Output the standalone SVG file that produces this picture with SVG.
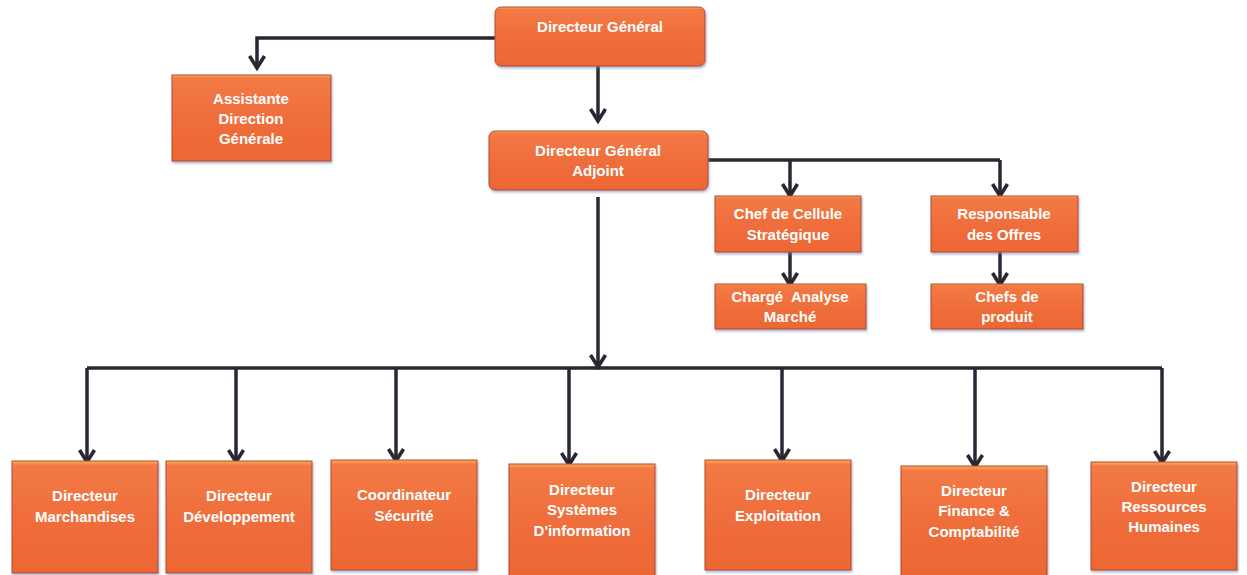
<svg xmlns="http://www.w3.org/2000/svg" width="1247" height="575" viewBox="0 0 1247 575">
  <defs>
    <linearGradient id="boxFill" x1="0" y1="0" x2="0" y2="1">
      <stop offset="0" stop-color="#f9b060"/>
      <stop offset="0.04" stop-color="#f27a45"/>
      <stop offset="0.5" stop-color="#ef6e3c"/>
      <stop offset="1" stop-color="#ec6633"/>
    </linearGradient>
    <filter id="shade" x="-5%" y="-5%" width="110%" height="120%">
      <feDropShadow dx="1" dy="2" stdDeviation="1.2" flood-color="#6a7fb0" flood-opacity="0.55"/>
    </filter>
    <marker id="arrow" viewBox="0 0 18 18" refX="15" refY="9" markerWidth="18" markerHeight="18" markerUnits="userSpaceOnUse" orient="auto">
      <path d="M3,1.5 L15,9 L3,16.5" fill="none" stroke="#2b2633" stroke-width="3.6" stroke-linejoin="miter"/>
    </marker>
    <style>
      .box { fill: url(#boxFill); stroke: #b8481f; stroke-width: 1; filter: url(#shade); }
      .lbl { font-family: "Liberation Sans", Arial, sans-serif; font-size: 15px; font-weight: bold; fill: #ffffff; text-anchor: middle; white-space: pre; }
      .wire { fill: none; stroke: #2b2633; stroke-width: 3.5; }
      .wire.arr { marker-end: url(#arrow); }
    </style>
  </defs>

  <rect width="1247" height="575" fill="#ffffff"/>

  <!-- connectors -->
  <g id="connectors">
    <polyline class="wire arr" points="495,38 257,38 257,68"/>
    <line class="wire arr" x1="598" y1="66" x2="598" y2="121"/>
    <polyline class="wire" points="708,160 1000,160"/>
    <line class="wire arr" x1="790" y1="160" x2="790" y2="196"/>
    <line class="wire arr" x1="1000" y1="160" x2="1000" y2="196"/>
    <line class="wire arr" x1="790" y1="252" x2="790" y2="285"/>
    <line class="wire arr" x1="1000" y1="252" x2="1000" y2="285"/>
    <line class="wire arr" x1="598" y1="197" x2="598" y2="367"/>
    <polyline class="wire" points="87,368 1162,368"/>
    <line class="wire arr" x1="87" y1="368" x2="87" y2="462"/>
    <line class="wire arr" x1="236" y1="368" x2="236" y2="462"/>
    <line class="wire arr" x1="396" y1="368" x2="396" y2="461"/>
    <line class="wire arr" x1="569" y1="368" x2="569" y2="465"/>
    <line class="wire arr" x1="782" y1="368" x2="782" y2="461"/>
    <line class="wire arr" x1="975" y1="368" x2="975" y2="467"/>
    <line class="wire arr" x1="1162" y1="368" x2="1162" y2="463"/>
  </g>

  <!-- top management -->
  <g id="directeur-general">
    <rect class="box" x="495" y="7" width="210" height="59" rx="6"/>
    <text class="lbl" x="600" y="32">Directeur Général</text>
  </g>
  <g id="assistante">
    <rect class="box" x="172" y="75" width="159" height="86"/>
    <text class="lbl" x="251" y="104">Assistante</text>
    <text class="lbl" x="251" y="124">Direction</text>
    <text class="lbl" x="251" y="144">Générale</text>
  </g>
  <g id="directeur-general-adjoint">
    <rect class="box" x="489" y="131" width="219" height="59" rx="6"/>
    <text class="lbl" x="598" y="156">Directeur Général</text>
    <text class="lbl" x="598" y="176">Adjoint</text>
  </g>

  <!-- staff units -->
  <g id="chef-cellule">
    <rect class="box" x="715" y="196" width="146" height="56"/>
    <text class="lbl" x="788" y="219">Chef de Cellule</text>
    <text class="lbl" x="788" y="240">Stratégique</text>
  </g>
  <g id="responsable-offres">
    <rect class="box" x="931" y="196" width="147" height="56"/>
    <text class="lbl" x="1004" y="219">Responsable</text>
    <text class="lbl" x="1004" y="240">des Offres</text>
  </g>
  <g id="charge-analyse">
    <rect class="box" x="715" y="284" width="151" height="45"/>
    <text class="lbl" x="790" y="302" xml:space="preserve">Chargé  Analyse</text>
    <text class="lbl" x="790" y="322">Marché</text>
  </g>
  <g id="chefs-produit">
    <rect class="box" x="931" y="284" width="152" height="45"/>
    <text class="lbl" x="1007" y="302">Chefs de</text>
    <text class="lbl" x="1007" y="322">produit</text>
  </g>

  <!-- directorates -->
  <g id="dir-marchandises">
    <rect class="box" x="12" y="461" width="146" height="112"/>
    <text class="lbl" x="85" y="501">Directeur</text>
    <text class="lbl" x="85" y="522">Marchandises</text>
  </g>
  <g id="dir-developpement">
    <rect class="box" x="166" y="461" width="146" height="112"/>
    <text class="lbl" x="239" y="501">Directeur</text>
    <text class="lbl" x="239" y="522">Développement</text>
  </g>
  <g id="coord-securite">
    <rect class="box" x="331" y="460" width="146" height="110"/>
    <text class="lbl" x="404" y="500">Coordinateur</text>
    <text class="lbl" x="404" y="521">Sécurité</text>
  </g>
  <g id="dir-systemes">
    <rect class="box" x="509" y="464" width="146" height="112"/>
    <text class="lbl" x="582" y="495">Directeur</text>
    <text class="lbl" x="582" y="515">Systèmes</text>
    <text class="lbl" x="582" y="536">D'information</text>
  </g>
  <g id="dir-exploitation">
    <rect class="box" x="705" y="460" width="146" height="110"/>
    <text class="lbl" x="778" y="500">Directeur</text>
    <text class="lbl" x="778" y="521">Exploitation</text>
  </g>
  <g id="dir-finance">
    <rect class="box" x="901" y="466" width="146" height="110"/>
    <text class="lbl" x="974" y="496">Directeur</text>
    <text class="lbl" x="974" y="516">Finance &amp;</text>
    <text class="lbl" x="974" y="537">Comptabilité</text>
  </g>
  <g id="dir-rh">
    <rect class="box" x="1091" y="462" width="146" height="108"/>
    <text class="lbl" x="1164" y="492">Directeur</text>
    <text class="lbl" x="1164" y="512">Ressources</text>
    <text class="lbl" x="1164" y="532">Humaines</text>
  </g>
</svg>
